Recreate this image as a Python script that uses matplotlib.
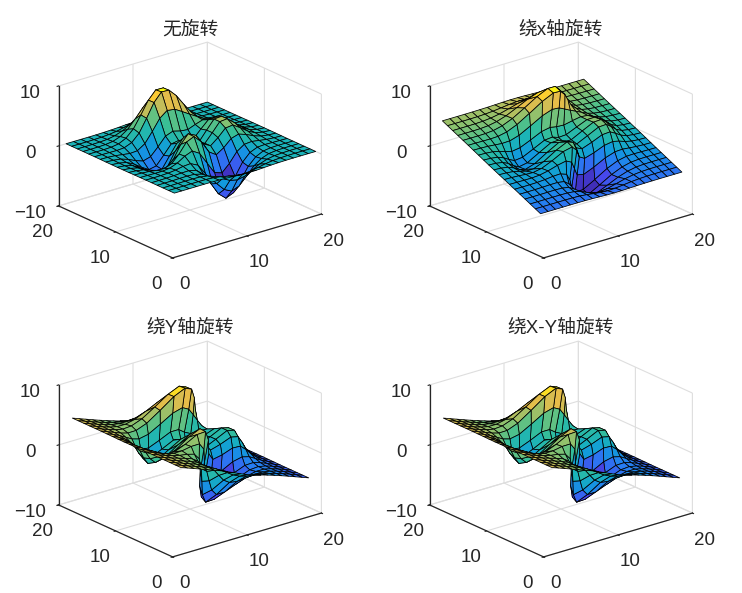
import numpy as np
import matplotlib
matplotlib.use('Agg')
import matplotlib.pyplot as plt
from matplotlib.colors import LinearSegmentedColormap, Normalize
from mpl_toolkits.mplot3d import Axes3D  # noqa

W, H = 742, 593
titles = ['无旋转', '绕x轴旋转', '绕Y轴旋转', '绕X-Y轴旋转']
angles_x = [0, 25, 0, 0]
angles_y = [0, 0, 25, 25]
ticks_xy = [0, 10, 20]
ticks_z = [-10, 0, 10]

Z = np.array([
[0,0,0,0,.01,0,-.01,-.06,-.14,-.21,-.25,-.22,-.15,-.08,-.04,-.01,0,0,0,0],
[0,0,0,.01,.01,0,-.08,-.26,-.53,-.79,-.90,-.80,-.56,-.30,-.14,-.05,-.01,0,0,0],
[0,0,.01,.02,.03,-.01,-.20,-.66,-1.36,-2.02,-2.30,-2.05,-1.42,-.77,-.33,-.11,-.03,0,0,0],
[0,0,.01,.04,.06,0,-.34,-1.23,-2.63,-3.98,-4.61,-4.12,-2.86,-1.52,-.65,-.20,-.05,-.01,0,0],
[0,0,.02,.07,.14,.16,-.13,-1.19,-3.11,-5.13,-6.23,-5.69,-3.94,-2.03,-.81,-.21,-.03,.01,0,0],
[0,0,.01,.06,.20,.45,.55,-.07,-1.84,-4.17,-5.80,-5.57,-3.81,-1.77,-.51,.01,.09,.05,.02,0],
[-.01,-.02,-.05,-.05,.10,.58,1.36,1.85,1.10,-.86,-2.83,-3.25,-2.04,-.44,.41,.53,.33,.14,.04,.01],
[-.01,-.06,-.16,-.34,-.42,.03,1.28,2.91,3.46,2.22,.18,-.66,.14,1.31,1.69,1.26,.68,.26,.08,.02],
[-.03,-.11,-.32,-.76,-1.23,-1.22,-.04,2.09,3.50,2.88,1.10,.40,1.39,2.62,2.77,1.94,1.02,.38,.12,.03],
[-.03,-.14,-.44,-1.10,-1.95,-2.46,-1.65,.47,2.24,2.05,.67,.37,1.78,3.25,3.38,2.34,1.22,.46,.14,.03],
[-.04,-.15,-.47,-1.20,-2.21,-3.01,-2.56,-.73,1.03,1.12,.19,.22,1.77,3.25,3.36,2.32,1.21,.45,.14,.03],
[-.03,-.13,-.39,-1.02,-1.91,-2.68,-2.43,-1.01,.48,.71,.13,.26,1.53,2.71,2.77,1.91,.99,.37,.11,.03],
[-.02,-.09,-.26,-.68,-1.25,-1.68,-1.32,-.05,1.36,1.83,1.50,1.37,1.85,2.26,2.06,1.34,.69,.25,.08,.02],
[-.01,-.04,-.13,-.31,-.49,-.40,.41,2.08,3.89,4.86,4.70,3.94,3.15,2.39,1.65,.92,.43,.15,.05,.01],
[0,-.02,-.04,-.06,.03,.53,1.74,3.84,6.11,7.51,7.44,6.15,4.35,2.66,1.48,.68,.28,.09,.03,0],
[0,0,0,.05,.24,.83,2.03,3.97,6.07,7.42,7.39,6.08,4.16,2.36,1.18,.48,.17,.05,.01,0],
[0,0,.01,.06,.22,.67,1.52,2.88,4.34,5.29,5.29,4.34,2.94,1.62,.77,.30,.10,.03,.01,0],
[0,0,.01,.04,.12,.35,.77,1.43,2.15,2.62,2.62,2.15,1.45,.79,.37,.14,.04,.01,0,0],
[0,0,0,.02,.05,.14,.30,.56,.84,1.02,1.02,.84,.56,.31,.14,.05,.02,0,0,0],
[0,0,0,0,.01,.04,.08,.15,.23,.28,.28,.23,.15,.08,.04,.01,0,0,0,0],
])

parula = LinearSegmentedColormap.from_list('parula', [
    (0.00, (.2422, .1504, .6603)), (0.12, (.2780, .2780, .9250)),
    (0.25, (.1540, .4900, .9500)), (0.35, (.0700, .6000, .8700)),
    (0.45, (.1000, .7000, .7300)), (0.55, (.2200, .7500, .5900)),
    (0.65, (.5300, .7600, .4400)), (0.75, (.8000, .7400, .3400)),
    (0.87, (.9900, .7400, .2400)), (1.00, (.9763, .9831, .0538))])

centers = [(190, 150), (561, 150), (190, 449), (561, 449)]
S = 285.0
fig = plt.figure(figsize=(W / 100, H / 100), dpi=100)
INK = (.15, .15, .15)
GRID = (.87, .87, .87)
tfont = ['Liberation Sans', 'Noto Sans CJK SC']

for k, title in enumerate(titles):
    cx, cy = centers[k]
    f = .095 / .185
    rect = [(cx - f * S) / W, (H - cy - f * S) / H, S / W, S / H]
    ax = fig.add_axes(rect, projection='3d', proj_type='ortho')
    ax.view_init(elev=21.5, azim=-90 - 38.8)
    ax.set_box_aspect((191, 182, 129))
    ax.patch.set_alpha(0)

    n = Z.shape[0]
    X, Y = np.meshgrid(np.arange(1, n + 1), np.arange(1, n + 1))
    X, Y, ZZ = X.astype(float), Y.astype(float), Z.copy()
    if angles_x[k]:
        t = np.radians(angles_x[k])
        Y, ZZ = 10 + (Y - 10) * np.cos(t) - ZZ * np.sin(t), (Y - 10) * np.sin(t) + ZZ * np.cos(t)
    if angles_y[k]:
        t = np.radians(angles_y[k])
        X, ZZ = 10 + (X - 10) * np.cos(t) + ZZ * np.sin(t), -(X - 10) * np.sin(t) + ZZ * np.cos(t)
    colors = parula(Normalize(ZZ.min(), ZZ.max())(ZZ))
    ax.plot_surface(X, Y, ZZ, rstride=1, cstride=1, facecolors=colors, shade=False,
                    edgecolor='k', linewidth=.55, antialiased=True)

    ax.set_xlim(0, 20, view_margin=0)
    ax.set_ylim(0, 20, view_margin=0)
    ax.set_zlim(-10, 10, view_margin=0)
    ax.set_xticks(ticks_xy)
    ax.set_yticks(ticks_xy)
    ax.set_zticks(ticks_z)
    for axis in (ax.xaxis, ax.yaxis, ax.zaxis):
        axis.set_pane_color((1, 1, 1, 0))
        axis.pane.set_edgecolor(GRID)
        axis.pane.set_linewidth(.8)
        axis.line.set_color(INK)
        axis.line.set_linewidth(.9)
        axis._axinfo['grid'].update(color=GRID, linewidth=.8)
        axis._axinfo['tick'].update(inward_factor=.12, outward_factor=0, color=INK, linewidth={True: .8, False: .5})
    ax.tick_params(axis='both', labelsize=13.5, colors=INK)
    ax.tick_params(axis='z', labelsize=13.5, colors=INK)
    for lab in ax.get_xticklabels() + ax.get_yticklabels() + ax.get_zticklabels():
        lab.set_family('Liberation Sans')
    fig.text(cx / W, 1 - (cy - 120 if k < 2 else cy - 121) / H, title, ha='center', va='center',
             fontsize=13.5, color=INK, family=tfont)

fig.savefig('out.png', dpi=100)
